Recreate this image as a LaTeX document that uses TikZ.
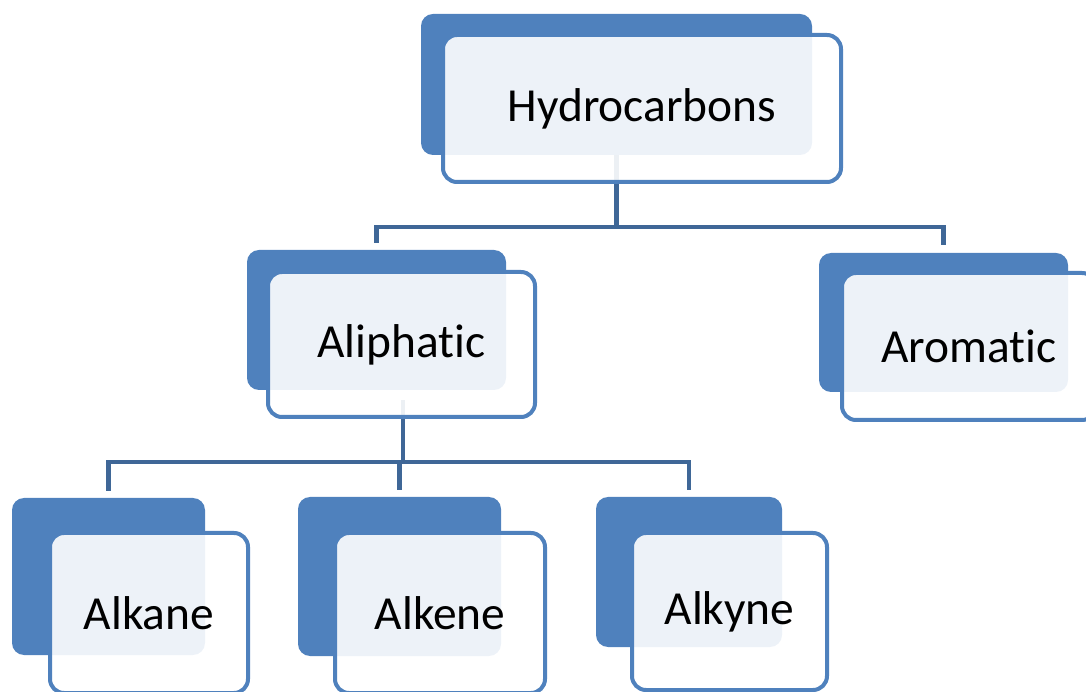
\documentclass[tikz,border=0pt]{standalone}
\usepackage{fontspec}
\setmainfont[Ligatures=NoCommon]{Carlito}
\usetikzlibrary{calc}
\definecolor{boxblue}{HTML}{4F81BD}
\definecolor{linkblue}{HTML}{3F6797}
\def\px{0.02cm}
\pgfdeclarelayer{background}
\pgfsetlayers{background,main}
\tikzset{
  boxsize/.style 2 args={minimum width=#1*\px, minimum height=#2*\px},
  backbox/.style={fill=boxblue, draw=none, rounded corners=0.24cm, inner sep=0pt},
  frontbox/.style={fill=white, fill opacity=0.9, text opacity=1, draw=boxblue, line width=0.08cm,
    rounded corners=0.28cm, inner sep=0pt, font=\fontsize{27}{31}\selectfont},
  link/.style={draw=linkblue, line width=0.085cm}
}

\begin{document}
\begin{tikzpicture}[x=0.02cm, y=-0.02cm]
			%%%%% START %%%%%
			\useasboundingbox (0,0) rectangle (1086,692);
			\clip (0,0) rectangle (1086,692);
			
			% back boxes
			\node[backbox, boxsize={391}{141}] (hydB) at (616.5, 84.5) {};
			\node[backbox, boxsize={259}{140}] (aliB) at (376.5, 320) {};
			\node[backbox, boxsize={249}{139}] (aroB) at (943.5, 322.5) {};
			\node[backbox, boxsize={193}{157}] (alkB) at (108.5, 576.5) {};
			\node[backbox, boxsize={203}{159}] (alkeB) at (399.5, 576.5) {};
			\node[backbox, boxsize={186}{150}] (alkyB) at (689, 572) {};
			
			% front boxes
			\node[frontbox, boxsize={398}{147}] (hyd) at (642, 108.5) {Hydrocarbons};
			\node[frontbox, boxsize={267}{145}] (ali) at (401.5, 344.5) {Aliphatic};
			\node[frontbox, boxsize={254}{147}] (aro) at (969, 346.5) {Aromatic};
			\node[frontbox, boxsize={198}{160}] (alk) at (149, 613) {Alkane};
			\node[frontbox, boxsize={210}{160}] (alke) at (440, 613) {Alkene};
			\node[frontbox, boxsize={195}{157}] (alky) at (729.5, 611.5) {Alkyne};
			
			% connectors
			\coordinate (hydJ) at (616.5, 227);
			\coordinate (aliT) at (403, 400);
			\coordinate (aliJ) at (403, 462);
			\begin{pgfonlayer}{background}
				\draw[link] (hydB.south) -- (hydJ);
				\draw[link] (hydJ) -| ($(aliB.north)+(0,-7)$);
				\draw[link] (hydJ) -| ($(aroB.north)+(0,-8)$);
				\draw[link] (aliT) -- (aliJ);
				\draw[link] (aliJ) -| ($(alkB.north)+(0,-7)$);
				\draw[link] (aliJ) -| ($(alkeB.north)+(0,-7)$);
				\draw[link] (aliJ) -| ($(alkyB.north)+(0,-7)$);
			\end{pgfonlayer}
			
			%%%%% END %%%%%
\end{tikzpicture}
\end{document}
